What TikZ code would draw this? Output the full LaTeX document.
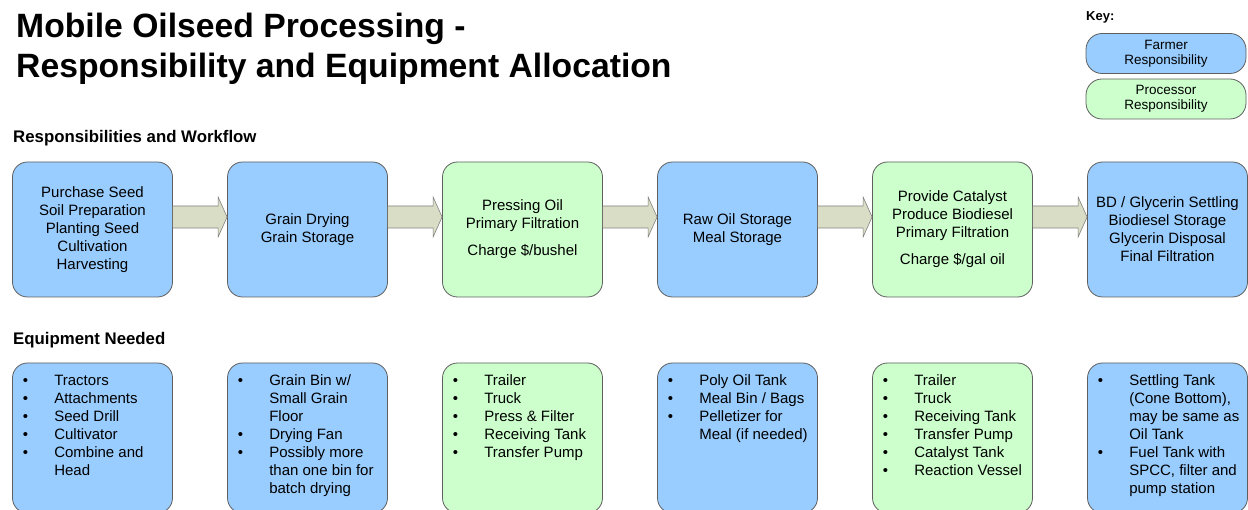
\documentclass[tikz,border=0pt]{standalone}
\usepackage{fontspec}
\setmainfont{Liberation Sans}
\usepackage{tikz}
\usetikzlibrary{positioning, calc}

\definecolor{farmerblue}{RGB}{153,204,255}
\definecolor{procgreen}{RGB}{204,255,204}
\definecolor{flowfill}{RGB}{218,221,197}
\definecolor{edgegray}{RGB}{95,95,95}

\tikzset{
    stage/.style={draw=edgegray, line width=0.8pt, rounded corners=15pt,
        minimum width=160pt, minimum height=135pt, inner sep=0pt,
        align=center, font=\fontsize{15}{18}\selectfont},
    farmer/.style={stage, fill=farmerblue},
    processor/.style={stage, fill=procgreen},
    gear/.style={minimum height=150pt},      % equipment boxes are taller
    gearlist/.style={anchor=north west, inner sep=0pt, font=\fontsize{15}{18}\selectfont},
    flowarrow/.style={fill=flowfill, draw=gray, line width=0.6pt},
    heading/.style={anchor=base west, inner sep=0pt, font=\fontsize{16.8}{20}\bfseries},
    keybox/.style={draw=edgegray, line width=0.8pt, rounded corners=16pt,
        minimum width=160pt, minimum height=40pt, inner sep=0pt,
        align=center, font=\fontsize{13.5}{15}\selectfont},
}

\begin{document}
\begin{tikzpicture}[x=1pt, y=-1pt]
    % one unit = one pixel, y grows downwards
    \useasboundingbox (0,0) rectangle (1248,510);

    \def\yStage{229.5}  % centre of the workflow row
    \def\yGear{438}     % centre of the equipment row

    % --- 1. Title ---
    \node[anchor=base west, inner sep=0pt, font=\fontsize{33.7}{40}\bfseries] (title1) at (16,38) {Mobile Oilseed Processing -};
    \node[anchor=base west, inner sep=0pt, font=\fontsize{33.7}{40}\bfseries] (title2) at (16,78) {Responsibility and Equipment Allocation};

    % --- 2. Key ---
    \node[anchor=base west, inner sep=0pt, font=\fontsize{13}{15}\bfseries] (keyhead) at (1086,21) {Key:};
    \node[keybox, fill=farmerblue] (kfarmer) at (1166,53.5) {Farmer\\Responsibility};
    \node[keybox, fill=procgreen] (kproc) at (1166,99) {Processor\\Responsibility};

    % --- 3. Workflow row ---
    \node[heading] (hflow) at (13,143) {Responsibilities and Workflow};

    \node[farmer] (r1) at (92.5,\yStage) {Purchase Seed\\Soil Preparation\\Planting Seed\\Cultivation\\Harvesting};
    \node[farmer] (r2) at (307.5,\yStage) {Grain Drying\\Grain Storage};
    \node[processor] (r3) at (522.5,\yStage) {Pressing Oil\\Primary Filtration\\[9pt]Charge \$/bushel};
    \node[farmer] (r4) at (737.5,\yStage) {Raw Oil Storage\\Meal Storage};
    \node[processor] (r5) at (952.5,\yStage) {Provide Catalyst\\Produce Biodiesel\\Primary Filtration\\[9pt]Charge \$/gal oil};
    \node[farmer] (r6) at (1167.5,\yStage) {BD / Glycerin Settling\\Biodiesel Storage\\Glycerin Disposal\\Final Filtration};

    % block arrows between the stages (left end left open)
    \foreach \a/\b in {r1/r2, r2/r3, r3/r4, r4/r5, r5/r6} {
        \filldraw[flowarrow] ($(\a.east)+(0,-23.5)$) -- ($(\b.west)+(-9,-23.5)$)
            -- ($(\b.west)+(-9,-32.5)$) -- ($(\b.west)+(0,-12.5)$)
            -- ($(\b.west)+(-9,7.5)$) -- ($(\b.west)+(-9,-1.5)$)
            -- ($(\a.east)+(0,-1.5)$);
    }

    % --- 4. Equipment row ---
    \node[heading] (hgear) at (13,345) {Equipment Needed};

    \node[farmer, gear] (e1) at (92.5,\yGear) {};
    \node[farmer, gear] (e2) at (307.5,\yGear) {};
    \node[processor, gear] (e3) at (522.5,\yGear) {};
    \node[farmer, gear] (e4) at (737.5,\yGear) {};
    \node[processor, gear] (e5) at (952.5,\yGear) {};
    \node[farmer, gear] (e6) at (1167.5,\yGear) {};

    \node[gearlist] (l1) at ($(e1.north west)+(10.5,10.4)$) {\begin{tabular}{@{}p{31.5pt}@{}l@{}}
        \textbullet & Tractors\\
        \textbullet & Attachments\\
        \textbullet & Seed Drill\\
        \textbullet & Cultivator\\
        \textbullet & Combine and\\
                    & Head
    \end{tabular}};
    \node[gearlist] (l2) at ($(e2.north west)+(10.5,10.4)$) {\begin{tabular}{@{}p{31.5pt}@{}l@{}}
        \textbullet & Grain Bin w/\\
                    & Small Grain\\
                    & Floor\\
        \textbullet & Drying Fan\\
        \textbullet & Possibly more\\
                    & than one bin for\\
                    & batch drying
    \end{tabular}};
    \node[gearlist] (l3) at ($(e3.north west)+(10.5,10.4)$) {\begin{tabular}{@{}p{31.5pt}@{}l@{}}
        \textbullet & Trailer\\
        \textbullet & Truck\\
        \textbullet & Press \& Filter\\
        \textbullet & Receiving Tank\\
        \textbullet & Transfer Pump
    \end{tabular}};
    \node[gearlist] (l4) at ($(e4.north west)+(10.5,10.4)$) {\begin{tabular}{@{}p{31.5pt}@{}l@{}}
        \textbullet & Poly Oil Tank\\
        \textbullet & Meal Bin / Bags\\
        \textbullet & Pelletizer for\\
                    & Meal (if needed)
    \end{tabular}};
    \node[gearlist] (l5) at ($(e5.north west)+(10.5,10.4)$) {\begin{tabular}{@{}p{31.5pt}@{}l@{}}
        \textbullet & Trailer\\
        \textbullet & Truck\\
        \textbullet & Receiving Tank\\
        \textbullet & Transfer Pump\\
        \textbullet & Catalyst Tank\\
        \textbullet & Reaction Vessel
    \end{tabular}};
    \node[gearlist] (l6) at ($(e6.north west)+(10.5,10.4)$) {\begin{tabular}{@{}p{31.5pt}@{}l@{}}
        \textbullet & Settling Tank\\
                    & (Cone Bottom),\\
                    & may be same as\\
                    & Oil Tank\\
        \textbullet & Fuel Tank with\\
                    & SPCC, filter and\\
                    & pump station
    \end{tabular}};

\end{tikzpicture}
\end{document}
